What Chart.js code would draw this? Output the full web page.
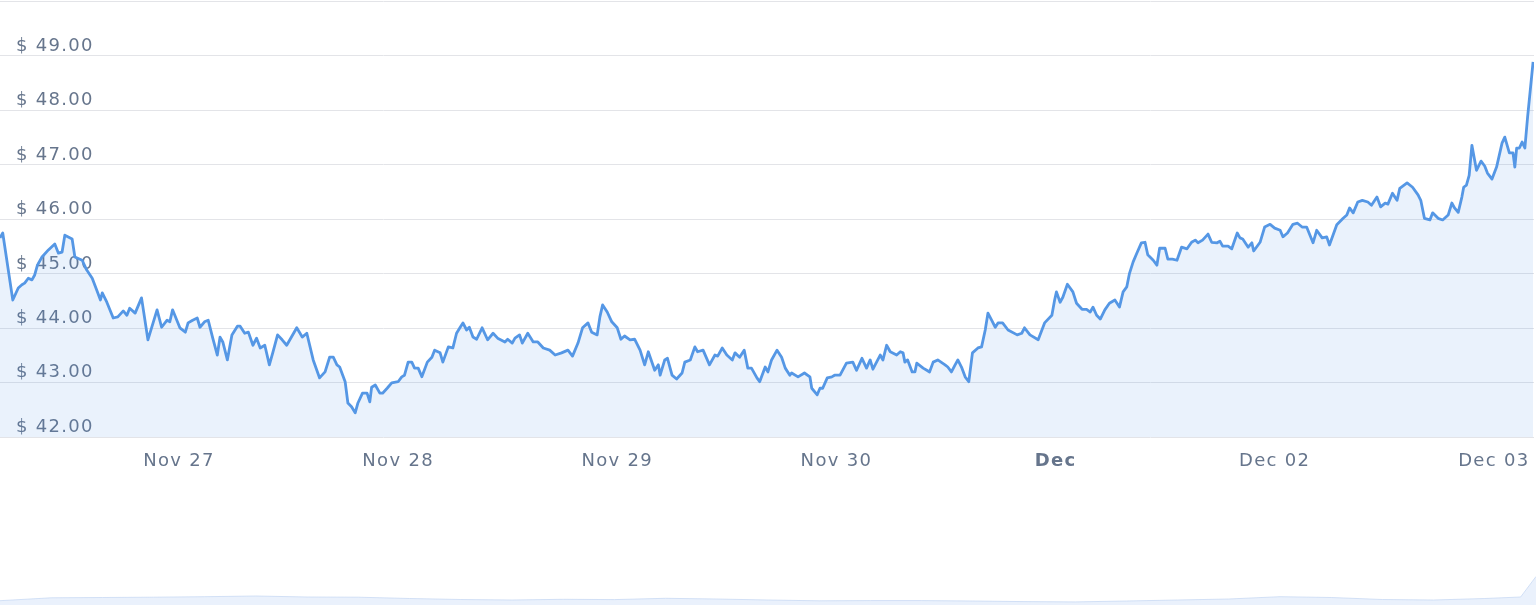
<!DOCTYPE html>
<html>
<head>
<meta charset="utf-8">
<script src="https://cdn.jsdelivr.net/npm/chart.js@4.4.1/dist/chart.umd.min.js"></script>
<style>
html,body{margin:0;padding:0;background:#fff;overflow:hidden}
#wrap{position:relative;width:1536px;height:605px}
#mainBox{position:absolute;left:0;top:0;width:1536px;height:485px}
#navBox{position:absolute;left:0;top:545px;width:1536px;height:60px}
</style>
</head>
<body>
<div id="wrap">
  <div id="mainBox"><canvas id="main"></canvas></div>
  <div id="navBox"><canvas id="nav"></canvas></div>
</div>
<script>
// Hours elapsed since the first quote (Nov 26, ~04:24)
const hours = [0,0.3,1.4,2.0,2.4,2.7,3.1,3.5,3.8,4.1,4.6,5.3,6.0,6.4,6.8,7.1,7.9,8.2,9.0,9.5,10.1,10.6,11.0,11.2,11.7,12.4,12.9,13.5,13.9,14.2,14.8,15.5,16.2,17.2,17.7,18.3,18.6,18.9,19.7,20.3,20.6,21.1,21.6,21.9,22.4,22.8,23.3,23.8,24.1,24.4,24.9,25.4,26.0,26.3,26.8,27.2,27.7,28.1,28.5,29.0,29.5,29.9,30.4,30.9,31.4,32.5,33.1,33.6,34.3,35.0,35.6,36.1,36.5,36.9,37.2,37.8,38.1,38.5,38.9,39.2,39.7,40.2,40.5,40.7,41.1,41.6,41.9,42.4,42.9,43.6,44.0,44.3,44.7,45.1,45.4,45.8,46.2,46.8,47.3,47.6,48.2,48.5,49.1,49.6,50.0,50.4,50.7,51.1,51.4,51.8,52.2,52.8,53.4,54.0,54.5,55.3,55.6,56.1,56.4,56.9,57.2,57.8,58.4,58.9,59.5,60.2,60.8,61.5,62.2,62.7,63.3,63.8,64.4,64.8,65.4,65.7,66.0,66.5,67.0,67.6,68.0,68.4,69.0,69.5,70.1,70.6,71.0,71.7,72.1,72.3,72.8,73.1,73.6,74.1,74.7,75.0,75.6,76.1,76.4,77.0,77.7,78.3,78.6,79.1,79.6,80.2,80.5,81.0,81.5,81.9,82.3,82.9,83.2,83.8,84.1,84.5,85.1,85.6,86.0,86.5,86.7,87.4,88.1,88.7,88.9,89.5,89.8,90.1,90.6,91.1,91.4,92.0,92.7,93.4,93.8,94.4,94.9,95.3,95.6,96.4,96.7,97.1,97.5,98.2,98.6,98.9,99.1,99.4,99.9,100.2,100.4,101.1,101.5,101.8,102.2,102.7,103.5,103.8,104.2,104.6,104.9,105.3,105.7,106.1,106.5,107.1,107.5,107.9,108.2,108.6,109.0,109.3,109.8,110.4,111.4,111.9,112.2,112.8,113.7,114.4,115.2,115.5,115.7,116.1,116.4,116.9,117.5,117.9,118.5,119.0,119.4,119.7,120.1,120.5,121.0,121.5,122.1,122.6,123.0,123.4,123.7,124.1,124.5,125.0,125.4,125.7,126.3,126.7,127.0,127.6,127.9,128.4,128.9,129.4,130.0,130.5,130.9,131.2,131.7,132.3,132.7,133.3,133.6,133.9,134.5,134.9,135.5,135.8,136.1,136.7,137.1,137.3,138.0,138.5,139.1,139.6,140.2,140.5,141.0,141.6,142.1,142.6,143.1,143.8,144.2,144.8,145.3,145.6,146.4,147.1,147.5,147.8,148.2,148.7,149.2,149.8,150.2,150.8,151.2,151.7,152.0,152.5,153.0,153.3,154.1,154.7,155.3,155.6,156.0,156.6,156.9,157.5,158.0,158.6,159.0,159.3,159.7,160.1,160.3,160.6,160.9,161.2,161.7,162.2,162.6,162.9,163.4,163.9,164.5,164.8,165.3,165.7,165.9,166.1,166.4,166.7,167.0,167.3,167.9];

const prices = [45.66,45.75,44.52,44.74,44.80,44.83,44.92,44.89,44.98,45.16,45.31,45.44,45.55,45.38,45.40,45.71,45.64,45.31,45.25,45.07,44.92,44.70,44.52,44.65,44.48,44.19,44.21,44.32,44.24,44.37,44.28,44.56,43.79,44.34,44.02,44.15,44.12,44.34,44.01,43.93,44.10,44.15,44.19,44.02,44.12,44.15,43.82,43.51,43.84,43.75,43.42,43.88,44.04,44.04,43.91,43.93,43.69,43.82,43.64,43.69,43.33,43.57,43.88,43.79,43.69,44.01,43.84,43.91,43.42,43.09,43.20,43.47,43.47,43.33,43.29,43.02,42.63,42.56,42.45,42.63,42.81,42.81,42.65,42.92,42.96,42.81,42.81,42.90,43.00,43.02,43.11,43.14,43.38,43.38,43.27,43.27,43.11,43.38,43.47,43.60,43.55,43.38,43.66,43.64,43.91,44.02,44.10,43.97,44.02,43.84,43.80,44.01,43.79,43.91,43.82,43.75,43.80,43.73,43.82,43.88,43.73,43.91,43.75,43.75,43.64,43.60,43.51,43.55,43.60,43.49,43.73,44.01,44.10,43.93,43.88,44.21,44.43,44.30,44.12,44.01,43.80,43.86,43.79,43.80,43.60,43.33,43.57,43.23,43.33,43.14,43.42,43.45,43.14,43.07,43.18,43.38,43.42,43.66,43.57,43.60,43.33,43.51,43.49,43.64,43.51,43.42,43.55,43.47,43.60,43.27,43.27,43.09,43.02,43.29,43.20,43.42,43.60,43.47,43.27,43.14,43.18,43.11,43.18,43.11,42.90,42.78,42.90,42.90,43.09,43.11,43.14,43.14,43.36,43.38,43.23,43.45,43.27,43.42,43.25,43.51,43.42,43.69,43.57,43.51,43.57,43.55,43.38,43.42,43.20,43.20,43.36,43.27,43.23,43.20,43.38,43.42,43.33,43.29,43.20,43.33,43.42,43.29,43.11,43.02,43.55,43.64,43.66,43.97,44.28,44.15,44.02,44.10,44.10,43.97,43.88,43.91,44.01,43.88,43.79,44.10,44.24,44.52,44.67,44.48,44.57,44.81,44.67,44.46,44.35,44.35,44.30,44.39,44.24,44.17,44.34,44.46,44.52,44.39,44.67,44.76,45.01,45.22,45.38,45.57,45.58,45.35,45.25,45.16,45.47,45.47,45.27,45.27,45.25,45.49,45.46,45.58,45.62,45.57,45.62,45.73,45.58,45.57,45.60,45.51,45.51,45.46,45.75,45.66,45.64,45.49,45.57,45.42,45.58,45.86,45.91,45.84,45.80,45.68,45.75,45.91,45.93,45.86,45.86,45.57,45.80,45.66,45.68,45.53,45.90,46.02,46.08,46.21,46.12,46.32,46.35,46.32,46.26,46.41,46.23,46.30,46.28,46.48,46.35,46.57,46.67,46.59,46.45,46.35,46.02,45.99,46.12,46.02,45.99,46.08,46.30,46.21,46.13,46.41,46.59,46.63,46.81,47.36,46.90,47.07,46.98,46.85,46.74,46.96,47.40,47.51,47.22,47.22,46.96,47.31,47.31,47.42,47.31,47.88,48.89];

// Daily ticks (midnights) in hours since the first quote, and their labels
const firstMidnightHour = 19.6;
const tickLabels = ['Nov 27','Nov 28','Nov 29','Nov 30','Dec','Dec 02','Dec 03'];
const tickHours = tickLabels.map((_, i) => firstMidnightHour + 24 * i);

// Price axis
const priceMin = 42, priceMax = 50, priceStep = 1;

// Navigator (long-range overview) series: day index and arbitrary index units
const navigatorDays   = [0,10,20,30,40,50,60,70,80,90,100,110,120,130,140,150,160,170,180,190,200,210,220,230,240,250,260,270,280,290,297,300];
const navigatorValues = [4.3,7.2,7.5,7.8,8.3,9.0,8.0,7.8,6.5,5.5,5.0,5.7,5.4,6.7,6.0,5.0,4.2,4.4,4.4,4.0,3.4,3.1,4.0,5.0,6.0,8.3,7.5,5.5,5.0,6.5,8.0,28.5];

const FONT = 'DejaVu Sans, Verdana, sans-serif';
const LABEL = '#66758c';

const spacing = { id: 'spacing', beforeDraw(chart) { chart.ctx.letterSpacing = '1.3px'; } };

new Chart(document.getElementById('main'), {
  type: 'line',
  data: {
    datasets: [{
      data: hours.map((h, i) => ({ x: h, y: prices[i] })),
      borderColor: '#5597e5',
      borderWidth: 2.8,
      borderJoinStyle: 'round',
      pointRadius: 0,
      tension: 0,
      fill: 'start',
      backgroundColor: 'rgba(85,151,229,0.12)'
    }]
  },
  options: {
    responsive: true,
    maintainAspectRatio: false,
    animation: false,
    layout: { padding: { top: 1.5, right: 2, left: 0, bottom: 0 } },
    plugins: { legend: { display: false }, tooltip: { enabled: false } },
    scales: {
      x: {
        type: 'linear',
        min: 0,
        max: 168,
        grid: { display: false },
        border: { display: false },
        afterBuildTicks: (scale) => { scale.ticks = tickHours.map(v => ({ value: v })); },
        afterFit: (scale) => { scale.height = 47.7; scale.paddingLeft = 0; scale.paddingRight = 0; },
        ticks: {
          autoSkip: false,
          maxRotation: 0,
          padding: 5,
          color: LABEL,
          font: (ctx) => ({ family: FONT, size: 18, weight: (ctx.tick && ctx.tick.label === 'Dec') ? 'bold' : 'normal' }),
          callback: (value, index) => tickLabels[index]
        }
      },
      y: {
        min: priceMin,
        max: priceMax,
        afterFit: (scale) => { scale.width = 0; scale.paddingTop = 0; scale.paddingBottom = 0; },
        grid: { color: '#e3e4e8', lineWidth: 1, drawTicks: false },
        border: { display: false },
        ticks: {
          stepSize: priceStep,
          mirror: true,
          padding: 16,
          labelOffset: -10,
          color: LABEL,
          font: { family: FONT, size: 18 },
          callback: (v) => v >= priceMax ? '' : '$ ' + Number(v).toFixed(2)
        }
      }
    }
  },
  plugins: [spacing]
});

new Chart(document.getElementById('nav'), {
  type: 'line',
  data: {
    datasets: [{
      data: navigatorDays.map((d, i) => ({ x: d, y: navigatorValues[i] })),
      borderColor: 'rgba(195,214,242,0.7)',
      borderWidth: 1,
      pointRadius: 0,
      tension: 0,
      fill: 'start',
      backgroundColor: 'rgba(205,222,247,0.42)'
    }]
  },
  options: {
    responsive: true,
    maintainAspectRatio: false,
    animation: false,
    layout: { padding: 0 },
    plugins: { legend: { display: false }, tooltip: { enabled: false } },
    scales: {
      x: { type: 'linear', display: false, min: 0, max: 300 },
      y: { display: false, min: 0, max: 60 }
    }
  }
});
</script>
</body>
</html>
